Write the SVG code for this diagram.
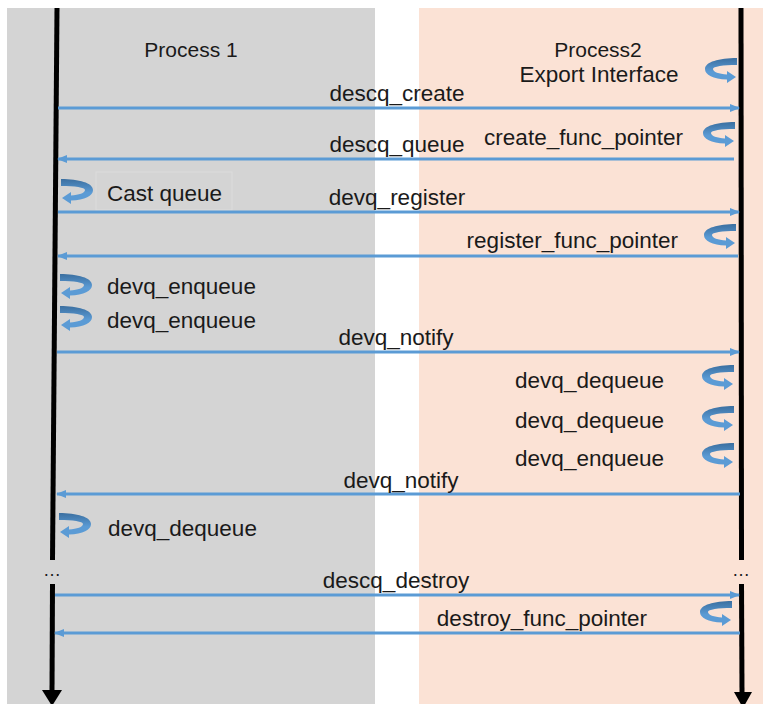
<svg xmlns="http://www.w3.org/2000/svg" width="763" height="704" viewBox="0 0 763 704">
<style>
.lbl{font-family:"Liberation Sans",Arial,sans-serif;font-size:22.5px;fill:#1a1a1a}
.hdr{font-family:"Liberation Sans",Arial,sans-serif;font-size:21px;fill:#1a1a1a}
.dots{font-family:"Liberation Sans",Arial,sans-serif;font-size:18px;fill:#1a1a1a}
.msg{stroke:#5B9BD5;stroke-width:3;fill:none}
.life{stroke:#000;stroke-width:5;fill:none}
.loop{fill:url(#lg)}
</style>
<defs>
<linearGradient id="lg" x1="0" y1="0" x2="0" y2="1">
<stop offset="0" stop-color="#3B6FA0"/>
<stop offset="0.55" stop-color="#5B9BD5"/>
<stop offset="1" stop-color="#5B9BD5"/>
</linearGradient>
<marker id="ah" markerWidth="10" markerHeight="8" refX="9" refY="4" orient="auto" markerUnits="userSpaceOnUse">
<path d="M0,0 L10,4 L0,8 Z" fill="#5B9BD5"/>
</marker>
<path id="loopR" d="M32,0 L32,7 C18,7 8,8.5 8,11 C8,14 14,16 22,16.5 L22,13 L31,19 L22,25 L22,21.5 C8,21 0,17 0,11 C0,4 14,0 32,0 Z"/>
</defs>
<rect x="7" y="8" width="368" height="696" fill="#D4D4D4"/>
<rect x="419" y="8" width="344" height="696" fill="#FBE2D5"/>
<g id="process1">
<text class="hdr" x="191" y="57" text-anchor="middle">Process 1</text>
<line class="life" x1="57" y1="8" x2="52.5" y2="560"/>
<text class="dots" x="52" y="576" text-anchor="middle">…</text>
<line class="life" x1="52.5" y1="584" x2="52" y2="692"/>
<path d="M42,690 L62,690 L52,706 Z" fill="#000"/>
</g>
<g id="process2">
<text class="hdr" x="598" y="57" text-anchor="middle">Process2</text>
<text class="lbl" x="599" y="82" text-anchor="middle">Export Interface</text>
<line class="life" x1="741" y1="8" x2="741.5" y2="560"/>
<text class="dots" x="741" y="576" text-anchor="middle">…</text>
<line class="life" x1="741.5" y1="584" x2="742" y2="694"/>
<path d="M734,692 L752,692 L743,708 Z" fill="#000"/>
</g>
<g id="cast-box">
<rect x="96" y="172" width="136" height="38" fill="none" stroke="#DCDCDC" stroke-width="1"/>
</g>
<g id="self-loops-p1">
<use href="#loopR" class="loop" transform="translate(93,179) scale(-1,1)"/>
<use href="#loopR" class="loop" transform="translate(92,274) scale(-1,1)"/>
<use href="#loopR" class="loop" transform="translate(92,306) scale(-1,1)"/>
<use href="#loopR" class="loop" transform="translate(91,513) scale(-1,1)"/>
<text class="lbl" x="107" y="201">Cast queue</text>
<text class="lbl" x="107" y="294">devq_enqueue</text>
<text class="lbl" x="107" y="328">devq_enqueue</text>
<text class="lbl" x="108" y="536">devq_dequeue</text>
</g>
<g id="self-loops-p2">
<use href="#loopR" class="loop" transform="translate(705,58)"/>
<use href="#loopR" class="loop" transform="translate(703,122)"/>
<use href="#loopR" class="loop" transform="translate(704,224)"/>
<use href="#loopR" class="loop" transform="translate(702,365)"/>
<use href="#loopR" class="loop" transform="translate(702,406)"/>
<use href="#loopR" class="loop" transform="translate(702,443)"/>
<use href="#loopR" class="loop" transform="translate(700,601)"/>
<text class="lbl" x="683" y="145" text-anchor="end">create_func_pointer</text>
<text class="lbl" x="678" y="248" text-anchor="end">register_func_pointer</text>
<text class="lbl" x="664" y="388" text-anchor="end">devq_dequeue</text>
<text class="lbl" x="664" y="428" text-anchor="end">devq_dequeue</text>
<text class="lbl" x="664" y="466" text-anchor="end">devq_enqueue</text>
<text class="lbl" x="647" y="626" text-anchor="end">destroy_func_pointer</text>
</g>
<g id="connectors">
<line class="msg" x1="58" y1="108" x2="739" y2="108" marker-end="url(#ah)"/>
<text class="lbl" x="397" y="101" text-anchor="middle">descq_create</text>
<line class="msg" x1="734" y1="159" x2="58" y2="159" marker-end="url(#ah)"/>
<text class="lbl" x="397" y="152" text-anchor="middle">descq_queue</text>
<line class="msg" x1="58" y1="212" x2="739" y2="212" marker-end="url(#ah)"/>
<text class="lbl" x="397" y="205" text-anchor="middle">devq_register</text>
<line class="msg" x1="738" y1="256" x2="58" y2="256" marker-end="url(#ah)"/>
<line class="msg" x1="57" y1="352" x2="739" y2="352" marker-end="url(#ah)"/>
<text class="lbl" x="396" y="345" text-anchor="middle">devq_notify</text>
<line class="msg" x1="740" y1="494" x2="57" y2="494" marker-end="url(#ah)"/>
<text class="lbl" x="401" y="488" text-anchor="middle">devq_notify</text>
<line class="msg" x1="55" y1="595" x2="739" y2="595" marker-end="url(#ah)"/>
<text class="lbl" x="396" y="588" text-anchor="middle">descq_destroy</text>
<line class="msg" x1="740" y1="633" x2="55" y2="633" marker-end="url(#ah)"/>
</g>
</svg>
